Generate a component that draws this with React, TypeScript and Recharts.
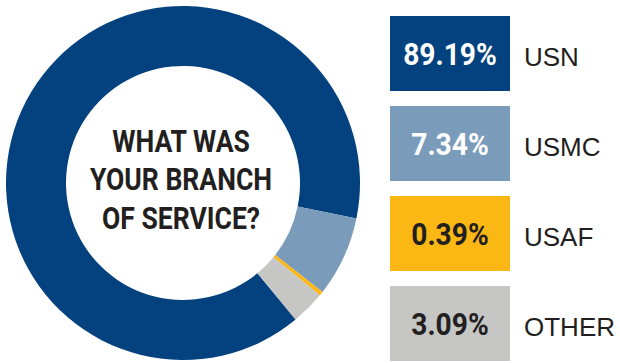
import { Cell, Label, Legend, Pie, PieChart } from "recharts";

const branches = ["USN", "USMC", "USAF", "OTHER"];
const shares = [89.19, 7.34, 0.39, 3.09];
const titleLines = ["WHAT WAS", "YOUR BRANCH", "OF SERVICE?"];

const COLORS = ["#03427f", "#7b9bba", "#fbb814", "#c6c6c5"];
const INK = "#231f20";

const chartData = branches.map((name, i) => ({ name, value: shares[i] }));

// Centre question, drawn in the donut hole with a condensed squeeze
function CenterTitle(props: any) {
  const vb = props.viewBox || {};
  const cx = vb.cx ?? 183;
  const cy = vb.cy ?? 183;
  const offsets = [-31.5, 7, 45.5];
  return (
    <g>
      {titleLines.map((line, i) => (
        <text
          key={line}
          transform={`translate(${cx - 2}, ${cy + offsets[i]}) scale(0.83, 1)`}
          textAnchor="middle"
          fontFamily="Roboto, 'Liberation Sans', sans-serif"
          fontWeight={700}
          fontSize={32}
          fill={INK}
        >
          {line}
        </text>
      ))}
    </g>
  );
}

// Recharts hands the pie legend back in its own order, so rows are keyed by name
function BoxLegend(props: any) {
  const payload = props.payload || [];
  return (
    <svg width={230} height={346} style={{ display: "block" }}>
      {payload.map((entry: any) => {
        const i = branches.indexOf(entry.value);
        if (i < 0) return null;
        const y = i * 90;
        return (
          <g key={entry.value}>
            <rect x={0} y={y} width={120} height={75} fill={entry.color} />
            <text
              transform={`translate(60, ${y + 49}) scale(0.88, 1)`}
              textAnchor="middle"
              fontFamily="Roboto, 'Liberation Sans', sans-serif"
              fontWeight={700}
              fontSize={32}
              fill={i < 2 ? "#ffffff" : INK}
            >
              {shares[i].toFixed(2)}%
            </text>
            <text
              x={134}
              y={y + 50}
              fontFamily="'Liberation Sans', Arial, sans-serif"
              fontSize={26}
              fill={INK}
            >
              {entry.value}
            </text>
          </g>
        );
      })}
    </svg>
  );
}

export default function App() {
  return (
    <div style={{ position: "absolute", left: 0, top: 0, background: "#fff" }}>
      <PieChart width={620} height={363} margin={{ top: 0, right: 0, bottom: 0, left: 0 }}>
        <Pie
          data={chartData}
          dataKey="value"
          nameKey="name"
          cx={183}
          cy={183}
          innerRadius={117}
          outerRadius={177}
          startAngle={309.5}
          endAngle={-50.5}
          stroke="none"
          isAnimationActive={false}
        >
          {chartData.map((d, i) => (
            <Cell key={d.name} fill={COLORS[i]} />
          ))}
          <Label position="center" content={<CenterTitle />} />
        </Pie>
        <Legend
          layout="vertical"
          content={<BoxLegend />}
          wrapperStyle={{ position: "absolute", left: 390, top: 16, width: 230, height: 346 }}
        />
      </PieChart>
    </div>
  );
}
